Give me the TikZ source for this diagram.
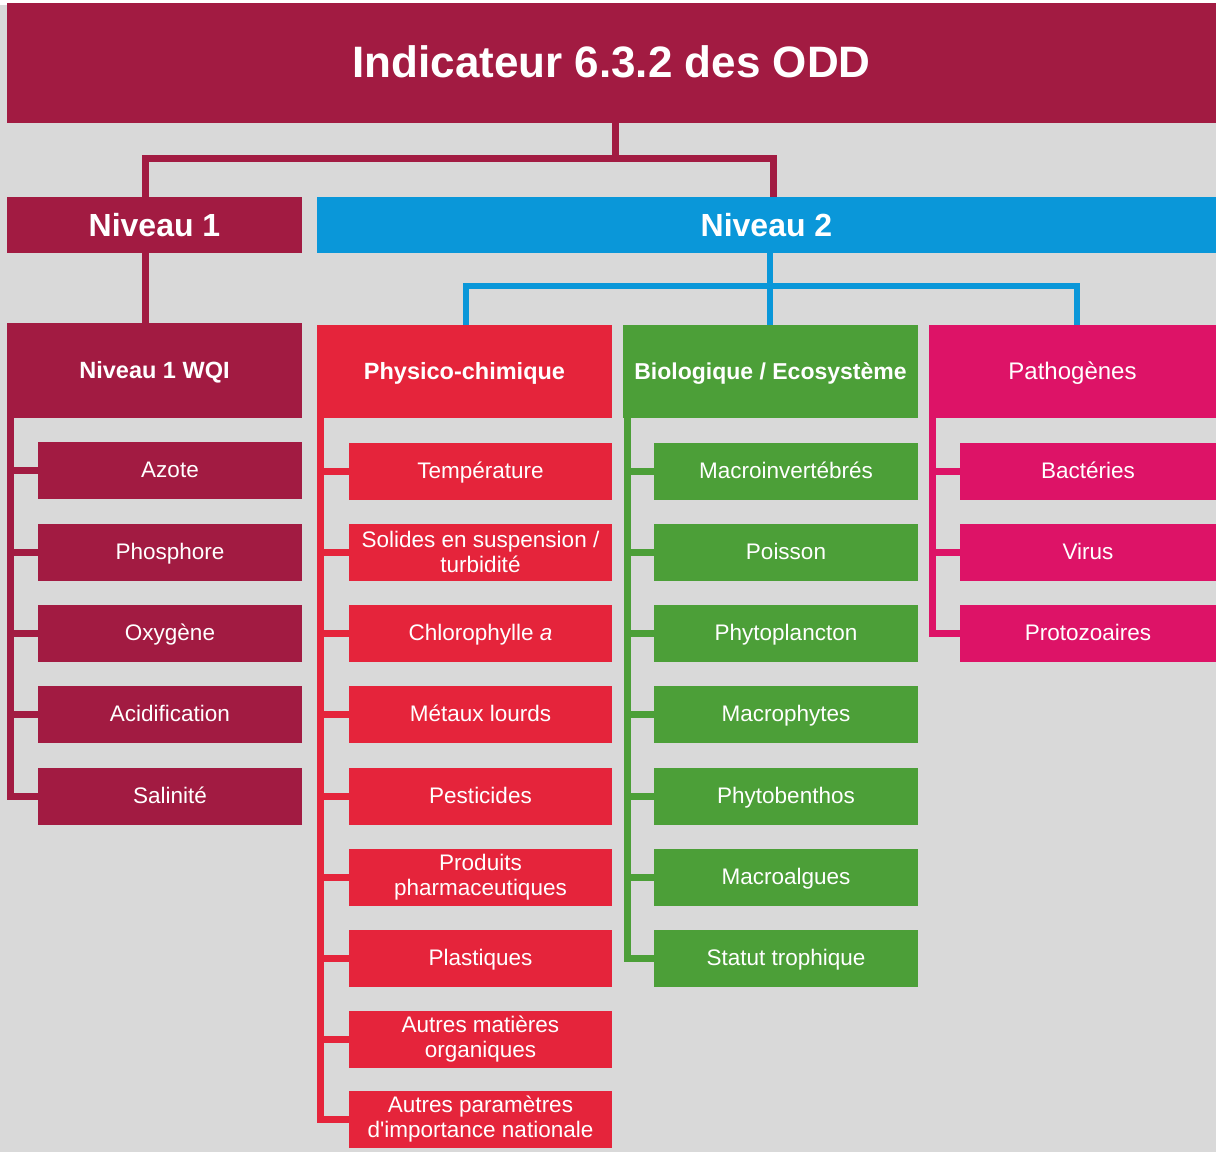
\documentclass[tikz,border=0pt]{standalone}
\usepackage{fontspec}
\setmainfont{Liberation Sans}
\newfontfamily\plainsans{Liberation Sans}
\definecolor{bg}{HTML}{D9D9D9}
\definecolor{maroon}{HTML}{A21B42}
\definecolor{sblue}{HTML}{0A97D9}
\definecolor{sred}{HTML}{E5243B}
\definecolor{sgreen}{HTML}{4C9F38}
\definecolor{spink}{HTML}{DD1367}
\begin{document}
\begin{tikzpicture}[x=1pt,y=-1pt,
  box/.style={fill=#1, text=white, inner sep=0pt, outer sep=0pt, align=center},
  sub/.style={box=#1, minimum height=57pt, font=\fontsize{22.5}{25}\selectfont},
  one/.style={text height=16pt, text depth=1pt},
  cat/.style={box=#1, font=\bfseries\fontsize{23.5}{28}\selectfont, text height=17pt, text depth=1pt},
  conn/.style={draw=#1, line width=7pt}]
\useasboundingbox (0,0) rectangle (1216,1152);
\fill[bg] (0,0) rectangle (1216,1152);
\fill[white] (0,0) rectangle (1216,5);

% top levels
\node[box=maroon, minimum width=1209pt, minimum height=120pt, font=\bfseries\fontsize{44}{50}\selectfont, text height=32pt, text depth=4pt] (t) at (611.5,63) {Indicateur 6.3.2 des ODD};
\node[box=maroon, minimum width=295pt, minimum height=56pt, font=\bfseries\fontsize{32}{36}\selectfont, text height=23pt, text depth=1pt] (n1) at (154.5,225) {Niveau 1};
\node[box=sblue, minimum width=899pt, minimum height=56pt, font=\bfseries\fontsize{32}{36}\selectfont, text height=23pt, text depth=1pt] (n2) at (766.5,225) {Niveau 2};

% categories
\node[cat=maroon, minimum width=295pt, minimum height=95pt] (wqi) at (154.5,370.5) {Niveau 1 WQI};
\node[cat=sred, minimum width=295pt, minimum height=93pt] (pc) at (464.5,371.5) {Physico-chimique};
\node[cat=sgreen, minimum width=295pt, minimum height=93pt, font=\bfseries\fontsize{23}{28}\selectfont] (bio) at (770.5,371.5) {Biologique / Ecosystème};
\node[box=spink, minimum width=287pt, minimum height=93pt, font=\fontsize{24}{28}\selectfont, text height=17pt, text depth=1pt] (pat) at (1072.5,371.5) {Pathogènes};

% level 1 items
\node[sub=maroon, one, minimum width=264pt] (l1) at (170,470) {Azote};
\node[sub=maroon, one, minimum width=264pt] (l2) at (170,552) {Phosphore};
\node[sub=maroon, one, minimum width=264pt] (l3) at (170,633) {Oxygène};
\node[sub=maroon, one, minimum width=264pt] (l4) at (170,714) {Acidification};
\node[sub=maroon, one, minimum width=264pt] (l5) at (170,796) {Salinité};

% physico-chimique items
\node[sub=sred, one, minimum width=263pt] (r1) at (480.5,471) {Température};
\node[sub=sred, minimum width=263pt] (r2) at (480.5,552) {Solides en suspension /\\turbidité};
\node[sub=sred, one, minimum width=263pt] (r3) at (480.5,633) {Chlorophylle \textit{a}};
\node[sub=sred, one, minimum width=263pt] (r4) at (480.5,714) {Métaux lourds};
\node[sub=sred, one, minimum width=263pt] (r5) at (480.5,796) {Pesticides};
\node[sub=sred, minimum width=263pt] (r6) at (480.5,877) {Produits\\pharmaceutiques};
\node[sub=sred, one, minimum width=263pt] (r7) at (480.5,958) {Plastiques};
\node[sub=sred, minimum width=263pt] (r8) at (480.5,1039) {Autres matières\\organiques};
\node[sub=sred, minimum width=263pt] (r9) at (480.5,1119) {Autres paramètres\\d{\plainsans'}importance nationale};

% biologique items
\node[sub=sgreen, one, minimum width=264pt] (g1) at (786,471) {Macroinvertébrés};
\node[sub=sgreen, one, minimum width=264pt] (g2) at (786,552) {Poisson};
\node[sub=sgreen, one, minimum width=264pt] (g3) at (786,633) {Phytoplancton};
\node[sub=sgreen, one, minimum width=264pt] (g4) at (786,714) {Macrophytes};
\node[sub=sgreen, one, minimum width=264pt] (g5) at (786,796) {Phytobenthos};
\node[sub=sgreen, one, minimum width=264pt] (g6) at (786,877) {Macroalgues};
\node[sub=sgreen, one, minimum width=264pt] (g7) at (786,958) {Statut trophique};

% pathogenes items
\node[sub=spink, one, minimum width=256pt] (p1) at (1088,471) {Bactéries};
\node[sub=spink, one, minimum width=256pt] (p2) at (1088,552) {Virus};
\node[sub=spink, one, minimum width=256pt] (p3) at (1088,633) {Protozoaires};

% connectors top
\coordinate (j0) at (615,158);
\coordinate (x1) at (145,0);
\coordinate (x2) at (773,0);
\draw[conn=maroon] (t.south -| j0) -- (j0);
\draw[conn=maroon] (n1.north -| x1) |- (j0) -| (n2.north -| x2);
\draw[conn=maroon] (n1.south -| x1) -- (wqi.north -| x1);

\coordinate (j1) at (770,286);
\coordinate (x3) at (466,0);
\coordinate (x4) at (1077,0);
\draw[conn=sblue, line width=6.5pt] (n2.south -| j1) -- (bio.north -| j1);
\draw[conn=sblue, line width=6.5pt] (pc.north -| x3) |- (j1) -| (pat.north -| x4);

% brackets
\coordinate (tL) at (10.5,0);
\coordinate (tR) at (320,0);
\coordinate (tG) at (627,0);
\coordinate (tP) at (932,0);
\draw[conn=maroon] (wqi.south -| tL) |- (l5.west);
\foreach \n in {l1,l2,l3,l4} \draw[conn=maroon] (tL |- \n.west) -- (\n.west);
\draw[conn=sred] (pc.south -| tR) |- (r9.west);
\foreach \n in {r1,r2,r3,r4,r5,r6,r7,r8} \draw[conn=sred] (tR |- \n.west) -- (\n.west);
\draw[conn=sgreen] (bio.south -| tG) |- (g7.west);
\foreach \n in {g1,g2,g3,g4,g5,g6} \draw[conn=sgreen] (tG |- \n.west) -- (\n.west);
\draw[conn=spink] (pat.south -| tP) |- (p3.west);
\foreach \n in {p1,p2} \draw[conn=spink] (tP |- \n.west) -- (\n.west);
\end{tikzpicture}
\end{document}
